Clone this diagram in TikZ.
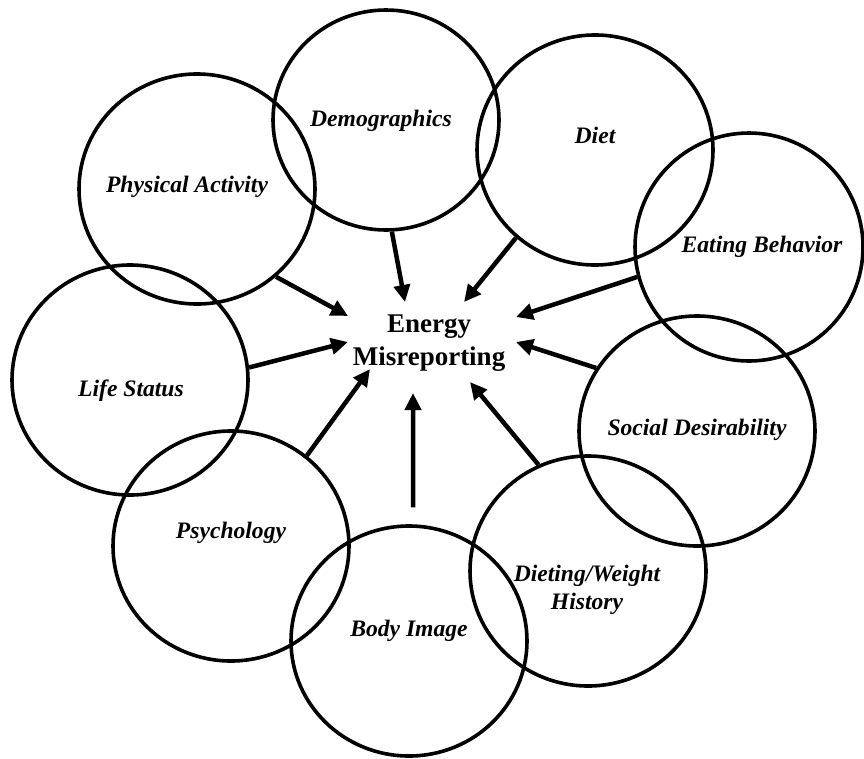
\documentclass[tikz,border=0pt]{standalone}
\usepackage{fontspec}
\setmainfont{Liberation Serif}
\usetikzlibrary{arrows.meta,shapes.geometric}

\begin{document}
\begin{tikzpicture}[x=1pt,y=-1pt,>={Triangle[length=17pt,width=16pt]},
  ring/.style={draw,ellipse,line width=3.6pt,minimum width=236pt,minimum height=230pt,inner sep=0pt},
  lab/.style={anchor=base,font=\fontsize{23.6}{27.4}\selectfont\bfseries\itshape,align=center},
  arr/.style={->,line width=4.5pt}]
  \useasboundingbox (0,0) rectangle (864,758);

  % the nine factors
  \node[ring] (pa) at (197,189) {};
  \node[ring,minimum width=226pt,minimum height=220pt] (dem) at (386,120) {};
  \node[ring] (diet) at (595,150) {};
  \node[ring,minimum width=228pt,minimum height=228pt] (eat) at (749,247) {};
  \node[ring] (soc) at (697,431) {};
  \node[ring] (hist) at (588,571) {};
  \node[ring] (body) at (409,641) {};
  \node[ring] (psy) at (231,546) {};
  \node[ring] (life) at (130,380) {};

  \node[lab] (paT) at (187,192) {Physical Activity};
  \node[lab] (demT) at (381,126) {Demographics};
  \node[lab] (dietT) at (595,143) {Diet};
  \node[lab] (eatT) at (762,252) {Eating Behavior};
  \node[lab] (socT) at (697,435) {Social Desirability};
  \node[lab,anchor=center] (histT) at (587,590) {Dieting/Weight\\History};
  \node[lab] (bodyT) at (409,636) {Body Image};
  \node[lab] (psyT) at (231,538) {Psychology};
  \node[lab] (lifeT) at (131,396) {Life Status};

  % outcome
  \node[font=\fontsize{27}{33.3}\selectfont\bfseries,align=center] (em) at (429,343) {Energy\\Misreporting};

  \coordinate (tpa) at (348,316);
  \coordinate (tdem) at (405,302);
  \coordinate (tdiet) at (464,302);
  \coordinate (teat) at (516,317);
  \coordinate (tsoc) at (516,342);
  \coordinate (thist) at (470,382);
  \coordinate (tbody) at (413,393);
  \coordinate (tpsy) at (370,369);
  \coordinate (tlife) at (348,342);

  \draw[arr] (pa.-48) -- (tpa);
  \draw[arr] (dem.-87) -- (tdem);
  \draw[arr] (diet.-132) -- (tdiet);
  \draw[arr] (eat.-165) -- (teat);
  \draw[arr] (soc.148) -- (tsoc);
  \draw[arr] (hist.115) -- (thist);
  \draw[arr,shorten <=17pt] (body.88) -- (tbody);
  \draw[arr] (psy.50) -- (tpsy);
  \draw[arr] (life.6) -- (tlife);
\end{tikzpicture}
\end{document}
